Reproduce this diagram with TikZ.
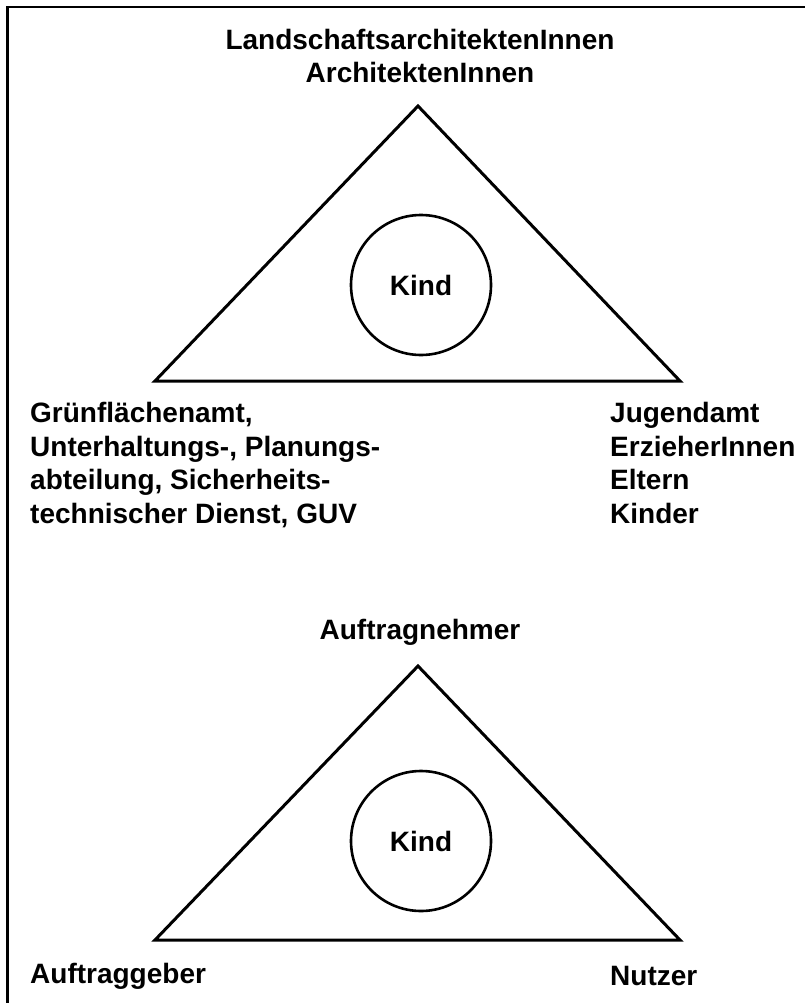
\documentclass[tikz,border=0pt]{standalone}
\usepackage{fontspec}
\setmainfont{Liberation Sans}
\begin{document}
\begin{tikzpicture}[x=1pt,y=-1pt,
  lbl/.style={font=\bfseries\fontsize{28}{33.7}\selectfont, inner sep=0pt, text=black},
  kindc/.style={circle, draw, line width=2.6pt, minimum size=140pt, inner sep=0pt, font=\bfseries\fontsize{28}{33.7}\selectfont},
  tri/.style={line width=3pt, line join=miter},
  frame/.style={line width=2.4pt}]
\useasboundingbox (0,0) rectangle (805,1003);
% frame (top and left edges)
\coordinate (fTR) at (805,7.3);
\coordinate (fTL) at (7.3,7.3);
\coordinate (fBL) at (7.3,1003);
\draw[frame] (fTR) -- (fTL) -- (fBL);
% top triangle
\node[lbl, align=center] (archi) at (420,56) {LandschaftsarchitektenInnen\\ArchitektenInnen};
\coordinate (tA) at (418,106);
\coordinate (tL) at (155,381);
\coordinate (tR) at (680,381);
\draw[tri] (tA) -- (tL) -- (tR) -- cycle;
\node[kindc] (kind1) at (421,285) {Kind};
\node[lbl, align=left, anchor=north west] (gruen) at (30,402) {Grünflächenamt,\\Unterhaltungs-, Planungs-\\abteilung, Sicherheits-\\technischer Dienst, GUV};
\node[lbl, align=left, anchor=north west] (jugend) at (610,402) {Jugendamt\\ErzieherInnen\\Eltern\\Kinder};
% bottom triangle
\node[lbl] (nehmer) at (420,632) {Auftragnehmer};
\coordinate (bA) at (418,666);
\coordinate (bL) at (155,940);
\coordinate (bR) at (680,940);
\draw[tri] (bA) -- (bL) -- (bR) -- cycle;
\node[kindc] (kind2) at (421,841) {Kind};
\node[lbl, anchor=west] (geber) at (30,976) {Auftraggeber};
\node[lbl, anchor=west] (nutzer) at (610,976) {Nutzer};
\end{tikzpicture}
\end{document}
